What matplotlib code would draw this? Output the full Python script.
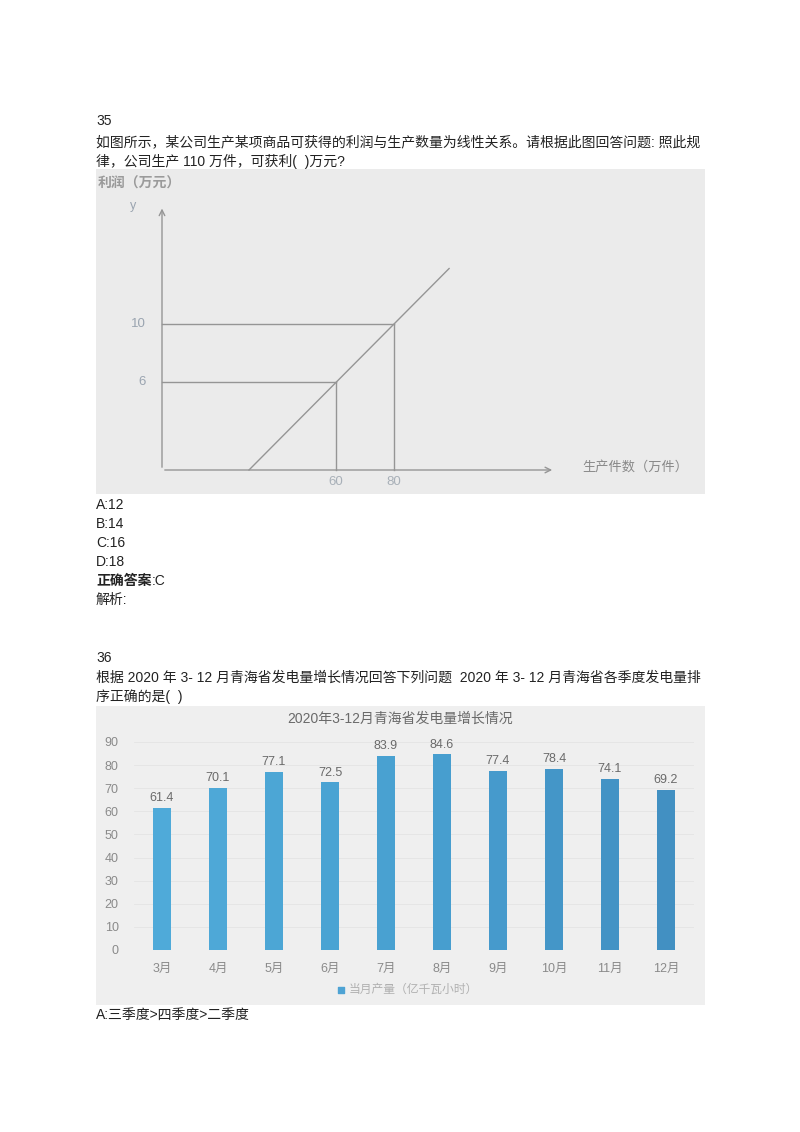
import matplotlib
matplotlib.use('Agg')
import matplotlib.pyplot as plt

plt.rcParams['font.family'] = ['Liberation Sans', 'Noto Sans CJK SC', 'DejaVu Sans']

# ---- question 35: linear profit chart -------------------------------------
q35_points_x = [60, 80]        # 生产件数（万件）
q35_points_y = [6, 10]         # 利润（万元）
q35_line_x = [30, 99]
q35_line_y = [0, 13.8]

# ---- question 36: monthly generation --------------------------------------
months = ['3月', '4月', '5月', '6月', '7月', '8月', '9月', '10月', '11月', '12月']
output = [61.4, 70.1, 77.1, 72.5, 83.9, 84.6, 77.4, 78.4, 74.1, 69.2]
y_ticks = [0, 10, 20, 30, 40, 50, 60, 70, 80, 90]

W, H = 800, 1132
fig = plt.figure(figsize=(W / 100, H / 100), dpi=100)
fig.patch.set_facecolor('white')


def px_axes(x0, y0, x1, y1):
    """Axes from pixel box (top-left origin)."""
    return fig.add_axes([x0 / W, 1 - y1 / H, (x1 - x0) / W, (y1 - y0) / H])


def ptext(x, y, s, **kw):
    kw.setdefault('fontsize', 10)
    kw.setdefault('color', '#222222')
    kw.setdefault('va', 'center')
    fig.text(x / W, 1 - y / H, s, **kw)


# page text, question 35
ptext(96, 121, '35')
ptext(96, 142, '如图所示，某公司生产某项商品可获得的利润与生产数量为线性关系。请根据此图回答问题: 照此规')
ptext(96, 161, '律，公司生产 110 万件，可获利(  )万元?')
for i, s in enumerate(['A:12', 'B:14', 'C:16', 'D:18']):
    ptext(96, 505 + 19 * i, s)
ptext(96, 581, '正确答案', fontweight='bold')
ptext(152, 581, ':C')
ptext(96, 600, '解析:')

# page text, question 36
ptext(96, 658, '36')
ptext(96, 678, '根据 2020 年 3- 12 月青海省发电量增长情况回答下列问题  2020 年 3- 12 月青海省各季度发电量排')
ptext(96, 697, '序正确的是(  )')
ptext(96, 1015, 'A:三季度>四季度>二季度')

# ---------------------------------------------------------------------------
# chart 1 (photo region 96..705 x 169..494), origin at px (162, 470)
sx, sy = 2.9, 14.6
ax1 = px_axes(96, 169, 705, 494)
ax1.set_facecolor('#ebebeb')
ax1.set_xlim((96 - 162) / sx, (705 - 162) / sx)
ax1.set_ylim((470 - 494) / sy, (470 - 169) / sy)
ax1.set_xticks([])
ax1.set_yticks([])
for sp in ax1.spines.values():
    sp.set_visible(False)

line_c = '#959595'
ax1.annotate('', xy=(0, 18.1), xytext=(0, 0),
             arrowprops=dict(arrowstyle='->', color=line_c, lw=1.0))
ax1.annotate('', xy=(135.5, 0), xytext=(0, 0),
             arrowprops=dict(arrowstyle='->', color=line_c, lw=1.0))
ax1.plot(q35_line_x, q35_line_y, color=line_c, lw=1.0)
for px_, py_ in zip(q35_points_x, q35_points_y):
    ax1.plot([0, px_], [py_, py_], color=line_c, lw=1.0)
    ax1.plot([px_, px_], [0, py_], color=line_c, lw=1.0)
    ax1.text(-5.5, py_, str(py_), ha='right', va='center',
             fontsize=9.5, color='#9aa4b0')
    ax1.text(px_, -0.85, str(px_), ha='center', va='center',
             fontsize=9.5, color='#a8b0b8')
ax1.text(-10, 18.1, 'y', ha='center', va='center', fontsize=9, color='#9aa4b0')
ax1.text(-22, 19.6, '利润（万元）', ha='left', va='center', fontsize=10,
         color='#9a9a9a', fontweight='bold')
ax1.text(145, 0.2, '生产件数（万件）', ha='left', va='center', fontsize=9.5,
         color='#8a8a8a')

# ---------------------------------------------------------------------------
# chart 2 (photo region 96..705 x 706..1005)
bg = px_axes(96, 706, 705, 1005)
bg.set_facecolor('#efefef')
bg.set_xticks([])
bg.set_yticks([])
for sp in bg.spines.values():
    sp.set_visible(False)
bg.text(0.5, 1 - 13 / 299, '2020年3-12月青海省发电量增长情况', transform=bg.transAxes,
        ha='center', va='center', fontsize=10, color='#6a6a6a')
bg.scatter([0.402], [1 - 284 / 299], marker='s', s=14, color='#4ea3d4',
           transform=bg.transAxes)
bg.text(0.415, 1 - 284 / 299, '当月产量（亿千瓦小时）', transform=bg.transAxes,
        ha='left', va='center', fontsize=8.5, color='#b0b0b0')

ax2 = px_axes(134, 742, 694, 950)
ax2.patch.set_alpha(0)
x = list(range(len(months)))
bar_cols = ['#4faad9', '#4ea8d7', '#4ca6d5', '#4aa3d3', '#49a1d1',
            '#479ecf', '#469acc', '#4496c8', '#4393c5', '#4290c2']
ax2.bar(x, output, width=0.32, color=bar_cols)
for xi, v in zip(x, output):
    ax2.text(xi, v + 4.2, f'{v}', ha='center', va='center', fontsize=9,
             color='#6a6a6a')
ax2.set_xlim(-0.5, 9.5)
ax2.set_ylim(0, 90)
ax2.set_yticks(y_ticks)
ax2.set_yticklabels([str(t) for t in y_ticks], fontsize=9, color='#8a8a8a')
ax2.set_xticks(x)
ax2.set_xticklabels(months, fontsize=9, color='#8a8a8a')
ax2.tick_params(length=0)
ax2.tick_params(axis='y', pad=11)
ax2.tick_params(axis='x', pad=9)
ax2.yaxis.grid(True, color='#e4e4e4', lw=0.6)
ax2.set_axisbelow(True)
for sp in ax2.spines.values():
    sp.set_visible(False)

fig.savefig('out.png', dpi=100, facecolor='white')
